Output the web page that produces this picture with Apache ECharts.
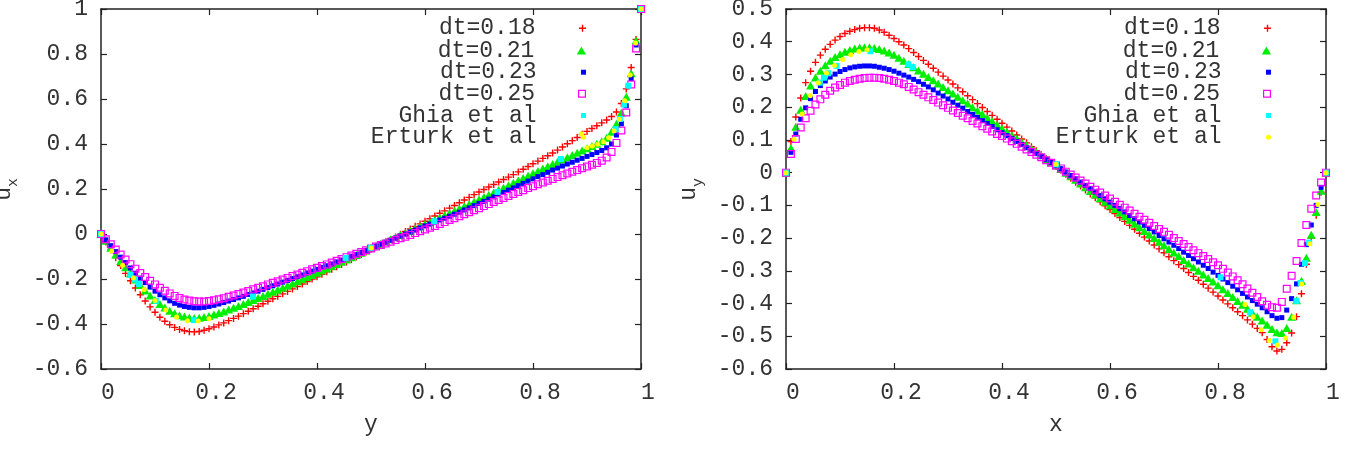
<!DOCTYPE html>
<html><head><meta charset="utf-8">
<script src="https://cdn.jsdelivr.net/npm/echarts@6/dist/echarts.min.js"></script>
<style>html,body{margin:0;padding:0;background:#fff}#c{width:1351px;height:455px}</style>
</head><body><div id="c"></div>
<script>
// ---------- DATA ----------
const meshN = 110; // uniform simulation mesh, 111 nodes from 0 to 1
const mesh = Array.from({length: meshN + 1}, (_, i) => i / meshN);
const seriesNames = ['dt=0.18', 'dt=0.21', 'dt=0.23', 'dt=0.25', 'Ghia et al', 'Erturk et al'];
const xTickLabels = ['0', '0.2', '0.4', '0.6', '0.8', '1'];
const uxTickLabels = ['-0.6', '-0.4', '-0.2', '0', '0.2', '0.4', '0.6', '0.8', '1'];
const uyTickLabels = ['-0.6', '-0.5', '-0.4', '-0.3', '-0.2', '-0.1', '0', '0.1', '0.2', '0.3', '0.4', '0.5'];

// left plot: u_x along y
const ux018 = [0,-0.035,-0.07,-0.105,-0.14,-0.175,-0.208,-0.24,-0.27,-0.298,-0.324,
 -0.348,-0.37,-0.388,-0.403,-0.415,-0.424,-0.43,-0.434,-0.435,-0.433,-0.428,
 -0.421,-0.413,-0.404,-0.395,-0.385,-0.375,-0.365,-0.354,-0.343,-0.332,-0.321,
 -0.31,-0.299,-0.288,-0.277,-0.266,-0.255,-0.244,-0.233,-0.222,-0.211,-0.2,
 -0.19,-0.179,-0.168,-0.157,-0.146,-0.135,-0.124,-0.113,-0.102,-0.091,-0.08,
 -0.068,-0.057,-0.046,-0.035,-0.024,-0.013,-0.001,0.011,0.022,0.034,0.045,
 0.057,0.068,0.08,0.092,0.103,0.115,0.127,0.139,0.151,0.163,0.175,
 0.187,0.198,0.209,0.22,0.231,0.242,0.253,0.264,0.276,0.288,0.3,
 0.312,0.324,0.336,0.348,0.36,0.373,0.387,0.401,0.415,0.429,0.443,
 0.456,0.469,0.481,0.494,0.507,0.522,0.542,0.58,0.645,0.74,0.865,1];
const ux021 = [0,-0.03,-0.061,-0.091,-0.12,-0.148,-0.176,-0.202,-0.227,-0.251,-0.273,
 -0.293,-0.311,-0.327,-0.341,-0.352,-0.361,-0.367,-0.371,-0.373,-0.372,-0.369,
 -0.364,-0.358,-0.351,-0.344,-0.336,-0.328,-0.32,-0.311,-0.302,-0.293,-0.284,
 -0.275,-0.266,-0.257,-0.248,-0.239,-0.229,-0.22,-0.21,-0.201,-0.191,-0.182,
 -0.172,-0.162,-0.153,-0.143,-0.133,-0.123,-0.113,-0.103,-0.093,-0.083,-0.073,
 -0.062,-0.052,-0.043,-0.033,-0.023,-0.014,-0.004,0.006,0.015,0.025,0.034,
 0.044,0.053,0.063,0.073,0.083,0.093,0.103,0.113,0.123,0.133,0.143,
 0.154,0.164,0.175,0.185,0.196,0.206,0.217,0.228,0.238,0.249,0.259,
 0.27,0.28,0.291,0.301,0.311,0.321,0.331,0.341,0.351,0.361,0.371,
 0.381,0.391,0.401,0.412,0.428,0.455,0.49,0.54,0.61,0.715,0.86,1];
const ux023 = [0,-0.026,-0.052,-0.078,-0.103,-0.127,-0.151,-0.174,-0.196,-0.216,-0.236,
 -0.254,-0.27,-0.284,-0.297,-0.308,-0.316,-0.322,-0.326,-0.328,-0.328,-0.326,
 -0.322,-0.317,-0.311,-0.305,-0.298,-0.291,-0.284,-0.277,-0.269,-0.262,-0.254,
 -0.246,-0.238,-0.23,-0.222,-0.214,-0.206,-0.198,-0.19,-0.182,-0.173,-0.165,
 -0.157,-0.149,-0.141,-0.133,-0.124,-0.116,-0.108,-0.099,-0.091,-0.082,-0.074,
 -0.065,-0.056,-0.046,-0.037,-0.028,-0.018,-0.009,0,0.009,0.018,0.027,
 0.036,0.044,0.053,0.062,0.07,0.079,0.088,0.097,0.107,0.116,0.126,
 0.136,0.145,0.155,0.165,0.175,0.185,0.195,0.205,0.215,0.225,0.235,
 0.245,0.255,0.264,0.274,0.284,0.293,0.302,0.311,0.319,0.328,0.336,
 0.345,0.353,0.362,0.371,0.383,0.4,0.44,0.49,0.57,0.69,0.84,1];
const ux025 = [0,-0.023,-0.046,-0.069,-0.091,-0.113,-0.134,-0.154,-0.173,-0.191,-0.208,
 -0.224,-0.239,-0.252,-0.264,-0.275,-0.284,-0.291,-0.296,-0.299,-0.3,-0.3,
 -0.298,-0.294,-0.29,-0.285,-0.279,-0.273,-0.267,-0.26,-0.253,-0.246,-0.239,
 -0.232,-0.224,-0.217,-0.21,-0.202,-0.195,-0.187,-0.18,-0.172,-0.165,-0.157,
 -0.15,-0.142,-0.135,-0.127,-0.119,-0.111,-0.103,-0.096,-0.088,-0.08,-0.072,
 -0.064,-0.056,-0.049,-0.042,-0.034,-0.027,-0.019,-0.012,-0.004,0.004,0.012,
 0.02,0.028,0.036,0.045,0.053,0.062,0.07,0.079,0.088,0.097,0.106,
 0.115,0.124,0.133,0.142,0.151,0.16,0.169,0.178,0.187,0.195,0.204,
 0.212,0.221,0.229,0.237,0.245,0.253,0.261,0.269,0.277,0.284,0.292,
 0.3,0.308,0.316,0.326,0.34,0.365,0.405,0.46,0.54,0.665,0.825,1];
const ghiaY = [0,0.0547,0.0625,0.0703,0.1016,0.1719,0.2813,0.4531,0.5,0.6172,0.7344,0.8516,0.9531,0.9609,0.9688,0.9766,1];
const ghiaU = [0,-0.18109,-0.20196,-0.2222,-0.2973,-0.38289,-0.27805,-0.10648,-0.0608,0.05702,0.18719,0.33304,0.46604,0.51117,0.57492,0.65928,1];
const erturkY = [0,0.02,0.04,0.06,0.08,0.1,0.12,0.14,0.16,0.18,0.2,0.5,0.89,0.9,0.91,0.92,0.93,0.94,0.95,0.96,0.97,0.98,0.99,1];
const erturkU = [0,-0.0757,-0.1392,-0.1951,-0.2472,-0.296,-0.3381,-0.369,-0.3854,-0.3869,-0.3769,-0.062,0.444,0.3838,0.3913,0.3993,0.4101,0.4276,0.4582,0.5102,0.5917,0.7065,0.8486,1];

// right plot: u_y along x
const uy018 = [0,0.095,0.17,0.228,0.275,0.31,0.337,0.359,0.377,0.392,0.405,
 0.416,0.425,0.432,0.437,0.441,0.443,0.443,0.441,0.436,0.429,0.42,
 0.41,0.4,0.39,0.379,0.367,0.355,0.343,0.331,0.319,0.307,0.295,
 0.283,0.271,0.259,0.247,0.235,0.223,0.211,0.199,0.187,0.175,0.163,
 0.151,0.139,0.127,0.115,0.103,0.091,0.079,0.067,0.055,0.043,0.031,
 0.019,0.007,-0.005,-0.017,-0.029,-0.041,-0.053,-0.065,-0.077,-0.089,-0.101,
 -0.113,-0.125,-0.137,-0.149,-0.161,-0.173,-0.185,-0.197,-0.209,-0.221,-0.233,
 -0.245,-0.257,-0.269,-0.281,-0.293,-0.305,-0.317,-0.329,-0.341,-0.353,-0.365,
 -0.377,-0.389,-0.401,-0.413,-0.425,-0.437,-0.45,-0.463,-0.476,-0.489,-0.51,
 -0.532,-0.545,-0.54,-0.52,-0.49,-0.44,-0.37,-0.28,-0.2,-0.13,-0.06,0];
const uy021 = [0,0.075,0.14,0.192,0.234,0.266,0.291,0.311,0.328,0.342,0.353,
 0.362,0.369,0.375,0.379,0.382,0.383,0.383,0.381,0.378,0.373,0.367,
 0.36,0.351,0.342,0.332,0.322,0.312,0.302,0.292,0.282,0.272,0.262,
 0.252,0.242,0.232,0.221,0.211,0.2,0.19,0.179,0.168,0.157,0.146,
 0.135,0.125,0.114,0.104,0.094,0.084,0.073,0.063,0.053,0.042,0.032,
 0.022,0.011,0,-0.011,-0.022,-0.033,-0.045,-0.056,-0.067,-0.078,-0.089,
 -0.1,-0.111,-0.122,-0.133,-0.144,-0.156,-0.167,-0.178,-0.189,-0.2,-0.211,
 -0.222,-0.233,-0.244,-0.255,-0.267,-0.278,-0.289,-0.3,-0.311,-0.322,-0.333,
 -0.344,-0.356,-0.368,-0.38,-0.392,-0.404,-0.416,-0.428,-0.44,-0.452,-0.465,
 -0.478,-0.488,-0.49,-0.475,-0.44,-0.39,-0.33,-0.26,-0.19,-0.12,-0.055,0];
const uy023 = [0,0.062,0.118,0.163,0.198,0.226,0.248,0.266,0.28,0.292,0.301,
 0.309,0.315,0.32,0.323,0.325,0.326,0.326,0.325,0.322,0.319,0.315,
 0.31,0.304,0.298,0.292,0.285,0.278,0.27,0.262,0.253,0.243,0.234,
 0.225,0.215,0.206,0.197,0.187,0.178,0.169,0.159,0.15,0.141,0.131,
 0.122,0.113,0.104,0.095,0.086,0.076,0.067,0.058,0.049,0.04,0.031,
 0.022,0.012,0.002,-0.009,-0.019,-0.029,-0.039,-0.049,-0.059,-0.07,-0.08,
 -0.09,-0.1,-0.11,-0.12,-0.131,-0.141,-0.151,-0.161,-0.171,-0.181,-0.192,
 -0.202,-0.212,-0.222,-0.232,-0.243,-0.253,-0.263,-0.273,-0.283,-0.293,-0.304,
 -0.314,-0.325,-0.336,-0.347,-0.358,-0.369,-0.38,-0.391,-0.402,-0.413,-0.425,
 -0.437,-0.445,-0.443,-0.42,-0.385,-0.34,-0.28,-0.22,-0.16,-0.1,-0.045,0];
const uy025 = [0,0.057,0.103,0.138,0.166,0.189,0.208,0.224,0.238,0.25,0.26,
 0.268,0.275,0.28,0.284,0.287,0.289,0.29,0.29,0.289,0.287,0.284,
 0.28,0.275,0.27,0.262,0.254,0.246,0.238,0.23,0.222,0.214,0.206,
 0.198,0.19,0.182,0.174,0.166,0.158,0.15,0.142,0.134,0.126,0.118,
 0.112,0.104,0.096,0.088,0.079,0.071,0.063,0.055,0.047,0.038,0.03,
 0.022,0.013,0.003,-0.006,-0.015,-0.024,-0.033,-0.043,-0.052,-0.061,-0.07,
 -0.079,-0.089,-0.098,-0.107,-0.116,-0.126,-0.135,-0.144,-0.153,-0.163,-0.172,
 -0.181,-0.19,-0.2,-0.209,-0.218,-0.227,-0.237,-0.246,-0.255,-0.264,-0.274,
 -0.283,-0.294,-0.305,-0.317,-0.329,-0.341,-0.354,-0.367,-0.38,-0.393,-0.404,
 -0.411,-0.413,-0.395,-0.355,-0.315,-0.27,-0.215,-0.16,-0.11,-0.07,-0.03,0];
const ghiaX = [0,0.0625,0.0703,0.0781,0.0938,0.1563,0.2266,0.2344,0.5,0.8047,0.8594,0.9063,0.9453,0.9531,0.9609,0.9688,1];
const ghiaV = [0,0.27485,0.29012,0.30353,0.32627,0.37095,0.33075,0.32235,0.02526,-0.31966,-0.42665,-0.5155,-0.39188,-0.33714,-0.27669,-0.21388,0];
const erturkX = [0,0.015,0.03,0.045,0.06,0.075,0.09,0.105,0.12,0.135,0.15,0.5,0.85,0.865,0.88,0.895,0.91,0.925,0.94,0.955,0.97,0.985,1];
const erturkV = [0,0.1019,0.1792,0.2349,0.2746,0.3041,0.3273,0.346,0.3605,0.3705,0.3756,0.0258,-0.4028,-0.4407,-0.4803,-0.5132,-0.5263,-0.5052,-0.4417,-0.34,-0.2173,-0.0973,0];

// ---------- STYLE ----------
const FONT = "'Liberation Mono','DejaVu Sans Mono',monospace";
const AX = '#222';
const TXT = '#333';
const PLUS = 'path://M4,0H6V4H10V6H6V10H4V6H0V4H4Z';
const TRI = 'path://M5,0L10,8.7L0,8.7Z';
const SQ = 'path://M0,0H10V10H0Z';
const OSQ = 'path://M0,0H10V10H0Z M1.5,1.5V8.5H8.5V1.5Z';
const styles = [
  {symbol: PLUS, size: 7, color: '#ff0000', legendSize: 7},
  {symbol: TRI, size: [9, 8], color: '#00ee00', legendSize: 8},
  {symbol: SQ, size: 5, color: '#0000ff', legendSize: 5},
  {symbol: OSQ, size: 8, color: '#ff00ff', legendSize: 8},
  {symbol: SQ, size: 6, color: '#00ffff', legendSize: 5},
  {symbol: 'circle', size: 5, color: '#ffff00', legendSize: 5}
];
const legendRowCenters = [26.7, 49, 70.7, 92.3, 114, 135.7];

function sc(k, xs, ys, axisIdx) {
  const s = styles[k];
  return {
    type: 'scatter', name: seriesNames[k], xAxisIndex: axisIdx, yAxisIndex: axisIdx,
    data: xs.map((x, i) => [x, ys[i]]),
    symbol: s.symbol, symbolSize: s.size,
    itemStyle: {color: s.color, borderWidth: 0, opacity: 1},
    clip: false, silent: true, animation: false, emphasis: {disabled: true}
  };
}

function xAx(grid, pos, name, show) {
  return {
    type: 'value', gridIndex: grid, position: pos, min: 0, max: 1, interval: 0.2,
    axisLine: {show: true, onZero: false, lineStyle: {color: AX, width: 1.5}},
    axisTick: {show: true, inside: true, length: 6, lineStyle: {color: AX, width: 1.2}},
    splitLine: {show: false},
    axisLabel: {show: show, margin: 12, padding: [0, 0, 0, 14], fontFamily: FONT, fontSize: 23, lineHeight: 23, color: TXT,
      formatter: v => xTickLabels[Math.round(v / 0.2)]},
    name: show ? name : '', nameLocation: 'middle', nameGap: 44,
    nameTextStyle: {fontFamily: FONT, fontSize: 23, lineHeight: 23, color: TXT}
  };
}
function yAx(grid, pos, min, max, interval, labels, sub, show) {
  return {
    type: 'value', gridIndex: grid, position: pos, min: min, max: max, interval: interval,
    axisLine: {show: true, onZero: false, lineStyle: {color: AX, width: 1.5}},
    axisTick: {show: true, inside: true, length: 6, lineStyle: {color: AX, width: 1.2}},
    splitLine: {show: false},
    axisLabel: {show: show, margin: 13, padding: [3, 0, 0, 0], fontFamily: FONT, fontSize: 23, lineHeight: 23, color: TXT,
      formatter: v => labels[Math.round((v - min) / interval)]},
    name: show ? '{u|u}{s|' + sub + '}{sp| }' : '', nameLocation: 'middle', nameGap: 80,
    nameTextStyle: {fontFamily: FONT, color: TXT,
      rich: {
        u: {fontFamily: FONT, fontSize: 23, lineHeight: 23, verticalAlign: 'top', color: TXT},
        s: {fontFamily: FONT, fontSize: 15, lineHeight: 15, verticalAlign: 'bottom', color: TXT},
        sp: {fontSize: 1, lineHeight: 29}
      }}
  };
}
function legends(rightPx) {
  return seriesNames.map((nm, k) => ({
    data: [nm], orient: 'vertical', align: 'right', right: rightPx, top: legendRowCenters[k] - 10.5,
    padding: 0, itemWidth: 84, itemHeight: styles[k].legendSize, symbolKeepAspect: true, selectedMode: false,
    itemStyle: {borderWidth: 0},
    textStyle: {fontFamily: FONT, fontSize: 23, lineHeight: 24, color: TXT, padding: 0}
  }));
}

const option = {
  backgroundColor: '#fff',
  animation: false,
  grid: [
    {left: 101, top: 9, width: 540, height: 360, outerBoundsMode: 'none', containLabel: false},
    {left: 786, top: 9, width: 540, height: 360, outerBoundsMode: 'none', containLabel: false}
  ],
  xAxis: [xAx(0, 'bottom', 'y', true), xAx(0, 'top', '', false), xAx(1, 'bottom', 'x', true), xAx(1, 'top', '', false)],
  yAxis: [
    yAx(0, 'left', -0.6, 1, 0.2, uxTickLabels, 'x', true), yAx(0, 'right', -0.6, 1, 0.2, uxTickLabels, 'x', false),
    yAx(1, 'left', -0.6, 0.5, 0.1, uyTickLabels, 'y', true), yAx(1, 'right', -0.6, 0.5, 0.1, uyTickLabels, 'y', false)
  ],
  legend: legends(765).concat(legends(80)),
  series: [
    sc(0, mesh, ux018, 0), sc(1, mesh, ux021, 0), sc(2, mesh, ux023, 0), sc(3, mesh, ux025, 0),
    sc(4, ghiaY, ghiaU, 0), sc(5, erturkY, erturkU, 0),
    sc(0, mesh, uy018, 2), sc(1, mesh, uy021, 2), sc(2, mesh, uy023, 2), sc(3, mesh, uy025, 2),
    sc(4, ghiaX, ghiaV, 2), sc(5, erturkX, erturkV, 2)
  ]
};
const chart = echarts.init(document.getElementById('c'), null, {renderer: 'canvas'});
chart.setOption(option);
</script>
</body></html>
